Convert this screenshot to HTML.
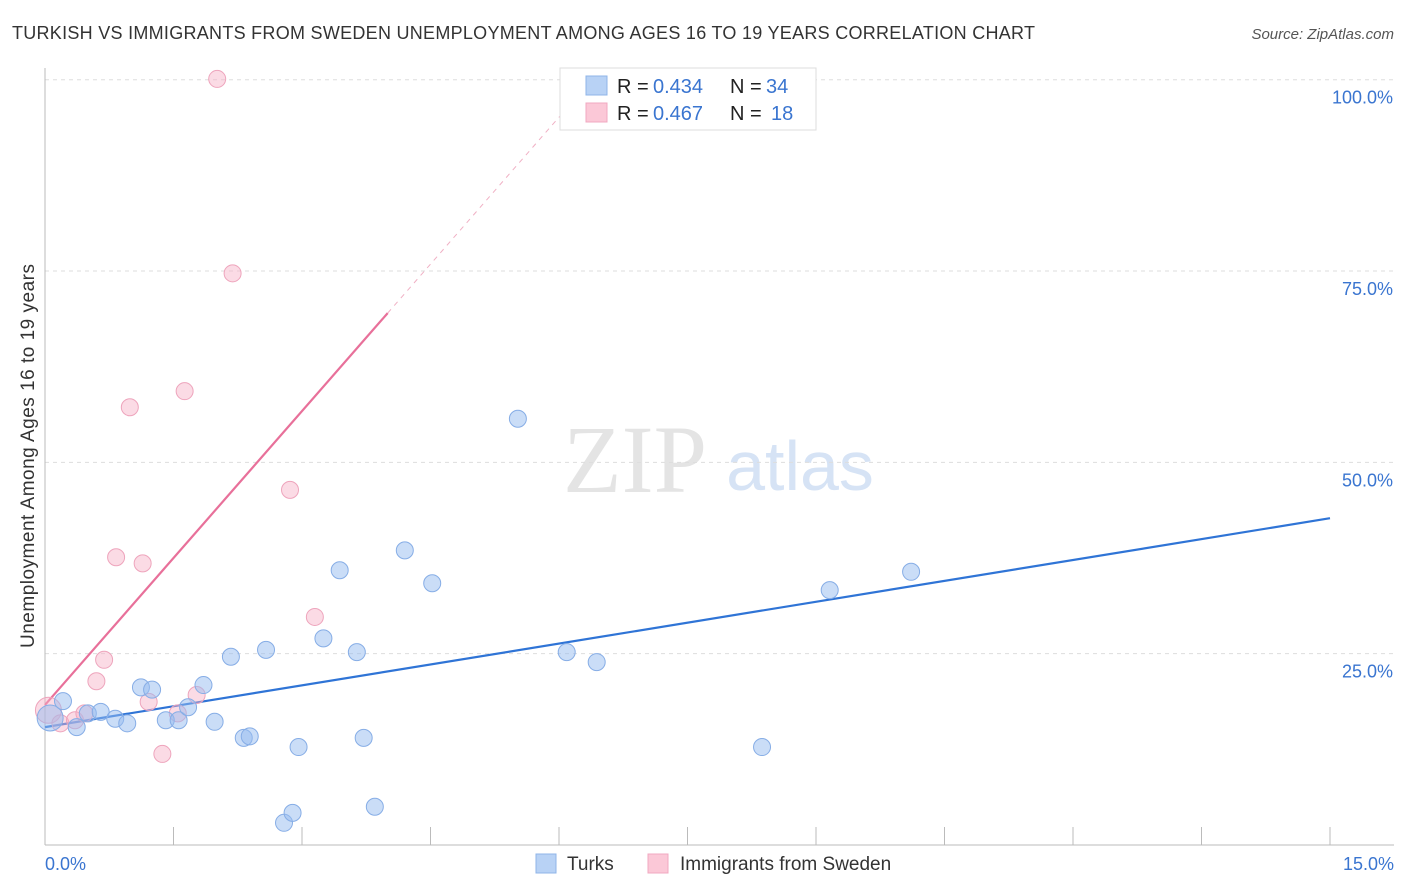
<!DOCTYPE html>
<html><head><meta charset="utf-8"><style>
body{margin:0;background:#fff;font-family:"Liberation Sans",sans-serif;}
svg{display:block}
text{white-space:pre}
</style></head><body>
<svg id="chart" width="1406" height="892">
<text x="12" y="39" font-size="18" fill="#333" textLength="1023">TURKISH VS IMMIGRANTS FROM SWEDEN UNEMPLOYMENT AMONG AGES 16 TO 19 YEARS CORRELATION CHART</text>
<text x="1394" y="39" font-size="15" fill="#555" text-anchor="end" font-style="italic">Source: ZipAtlas.com</text>
<text x="635" y="492" font-size="96" fill="#e4e4e4" font-family="Liberation Serif,serif" text-anchor="middle">ZIP</text>
<text x="800" y="490" font-size="70" fill="#d6e3f5" text-anchor="middle">atlas</text>
<g id="grid"></g><g id="lines"></g><g id="pts"></g>
<text x="34" y="456" font-size="19" fill="#333" text-anchor="middle" transform="rotate(-90 34 456)" textLength="384">Unemployment Among Ages 16 to 19 years</text>
<g>
<rect x="560" y="68" width="256" height="62" fill="#fff" stroke="#ddd"/>
<rect x="586" y="76" width="21" height="19" fill="#b8d2f5" stroke="#8fb4e8"/>
<rect x="586" y="103" width="21" height="19" fill="#fbc8d7" stroke="#f0a8c0"/>
<text x="617" y="93" font-size="20" fill="#222">R = </text><text x="653" y="93" font-size="20" fill="#3a75d0">0.434</text>
<text x="730" y="93" font-size="20" fill="#222">N = </text><text x="766" y="93" font-size="20" fill="#3a75d0">34</text>
<text x="617" y="120" font-size="20" fill="#222">R = </text><text x="653" y="120" font-size="20" fill="#3a75d0">0.467</text>
<text x="730" y="120" font-size="20" fill="#222">N = </text><text x="771" y="120" font-size="20" fill="#3a75d0">18</text>
</g>
<g>
<rect x="536" y="854" width="20" height="19" fill="#b8d2f5" stroke="#8fb4e8"/>
<text x="567" y="870" font-size="19" fill="#333">Turks</text>
<rect x="648" y="854" width="20" height="19" fill="#fbc8d7" stroke="#f0a8c0"/>
<text x="680" y="870" font-size="19" fill="#333">Immigrants from Sweden</text>
</g>
</svg>
<script>
const blueX=[0.06,0.21,0.37,0.50,0.65,0.82,0.96,1.12,1.25,1.41,1.56,1.67,1.85,1.98,2.17,2.32,2.39,2.58,2.79,2.89,2.96,3.25,3.44,3.64,3.72,3.85,4.20,4.52,5.52,6.09,6.44,8.37,9.16,10.11];
const blueY=[16.6,18.8,15.4,17.2,17.4,16.5,15.9,20.6,20.3,16.3,16.3,18.0,20.9,16.1,24.6,14.0,14.2,25.5,2.9,4.2,12.8,27.0,35.9,25.2,14.0,5.0,38.5,34.2,55.7,25.2,23.9,12.8,33.3,35.7];
const pinkX=[0.04,0.18,0.35,0.46,0.60,0.69,0.83,0.99,1.14,1.21,1.37,1.55,1.63,1.77,2.01,2.19,2.86,3.15];
const pinkY=[17.6,15.9,16.3,17.2,21.4,24.2,37.6,57.2,36.8,18.7,11.9,17.2,59.3,19.6,100.1,74.7,46.4,29.8];
const blueLine=[15.4,42.7];
const pinkLine=[18.3,69.5];
const pinkLineEndX=4.0;
const yTicks=[25,50,75,100];
const xTickVals=[0,1.5,3,4.5,6,7.5,9,10.5,12,13.5,15];
const NS="http://www.w3.org/2000/svg";
const sx=v=>45+v*1285/15, sy=v=>845-v*7.653;
function mk(tag,attrs,parent){const e=document.createElementNS(NS,tag);for(const k in attrs)e.setAttribute(k,attrs[k]);document.getElementById(parent).appendChild(e);return e;}
yTicks.forEach(t=>{
 const l=mk('line',{x1:45,x2:1394,y1:sy(t),y2:sy(t),stroke:'#ddd','stroke-dasharray':'4 4'},'grid');
 
 
 const tx=mk('text',{x:1393,y:sy(t)+24,'font-size':18,fill:'#3a75d0','text-anchor':'end'},'grid');
 tx.textContent=t.toFixed(1)+'%';
 
 
});
mk('line',{x1:45,x2:45,y1:68,y2:845,stroke:'#bbb'},'grid');
mk('line',{x1:45,x2:1394,y1:845,y2:845,stroke:'#bbb'},'grid');
xTickVals.forEach(t=>{
 const l=mk('line',{x1:sx(t),x2:sx(t),y1:827,y2:845,stroke:'#bbb'},'grid');
 
 
});
[[0,'0.0%','start',45],[15,'15.0%','end',1394]].forEach(a=>{
 const tx=mk('text',{x:a[3],y:870,'font-size':18,fill:'#3a75d0','text-anchor':a[2]},'grid');
 tx.textContent=a[1];
 
 
});
const slope=(pinkLine[1]-pinkLine[0])/pinkLineEndX;
const xEnd=(100-pinkLine[0])/slope;
let d=mk('line',{x1:sx(pinkLineEndX),y1:sy(pinkLine[1]),x2:sx(xEnd),y2:sy(100),stroke:'#f0b0c4','stroke-dasharray':'5 5','stroke-width':1},'lines');


function dots(X,Y,fill,stroke,name){X.forEach((x,i)=>{
 const c=mk('circle',{cx:sx(x),cy:sy(Y[i]),r:i==0?13:8.5,fill:fill,stroke:stroke,'stroke-width':1},'pts');
 
 
});}
dots(pinkX,pinkY,'rgba(246,175,198,0.45)','#eea4bc','sweden-point');
dots(blueX,blueY,'rgba(150,188,240,0.5)','#86ade6','turks-point');
let b=mk('line',{x1:sx(0),y1:sy(blueLine[0]),x2:sx(15),y2:sy(blueLine[1]),stroke:'#2f74d6','stroke-width':2.2},'lines');


let p=mk('line',{x1:sx(0),y1:sy(pinkLine[0]),x2:sx(pinkLineEndX),y2:sy(pinkLine[1]),stroke:'#e8709a','stroke-width':2.2},'lines');


</script>
</body></html>
